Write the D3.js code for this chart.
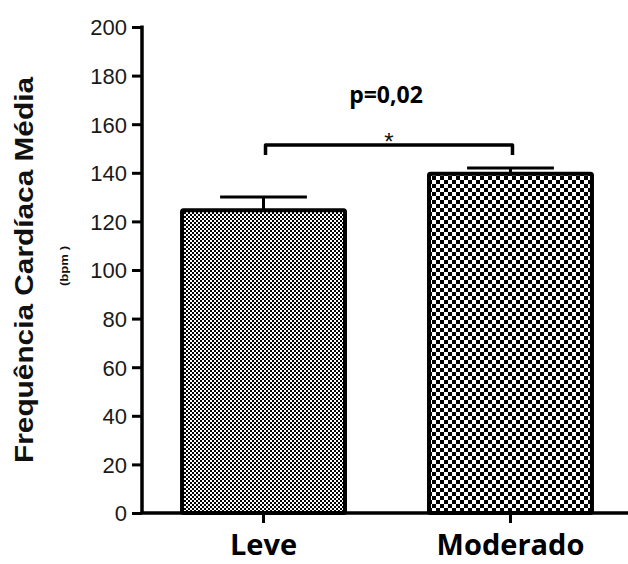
<!DOCTYPE html>
<html><head><meta charset="utf-8">
<script src="https://cdn.jsdelivr.net/npm/d3@7"></script>
<style>body{margin:0;background:#fff}svg{display:block}</style>
</head><body>
<svg id="c" width="628" height="564"></svg>
<script>
const categories = ["Leve", "Moderado"];
const means = [125, 140];
const sems = [5, 2];
const yTicks = [0, 20, 40, 60, 80, 100, 120, 140, 160, 180, 200];
const pLabel = "p=0,02";
const starLabel = "*";
const yTitle = "Frequência Cardíaca Média";
const yUnit = "(bpm )";

const svg = d3.select("#c");
const defs = svg.append("defs");
// fine checker
const p1 = defs.append("pattern").attr("id","pat0").attr("patternUnits","userSpaceOnUse")
  .attr("width",4).attr("height",4).attr("x",0).attr("y",0);
p1.append("rect").attr("width",4).attr("height",4).attr("fill","#fff");
p1.append("rect").attr("x",0).attr("y",0).attr("width",2).attr("height",2).attr("fill","#000");
p1.append("rect").attr("x",2).attr("y",2).attr("width",2).attr("height",2).attr("fill","#000");
// coarse checker
const p2 = defs.append("pattern").attr("id","pat1").attr("patternUnits","userSpaceOnUse")
  .attr("width",8).attr("height",8).attr("x",0).attr("y",0);
p2.append("rect").attr("width",8).attr("height",8).attr("fill","#fff");
p2.append("rect").attr("x",0).attr("y",0).attr("width",4).attr("height",4).attr("fill","#000");
p2.append("rect").attr("x",4).attr("y",4).attr("width",4).attr("height",4).attr("fill","#000");

const y = d3.scaleLinear().domain([0,200]).range([513,27]);
const x = d3.scaleBand().domain(categories).range([142,632]).paddingInner(0.324).paddingOuter(0.154);

// bars
const g = svg.append("g");
categories.forEach((c,i)=>{
  const bx = x(c), bw = x.bandwidth();
  const cx = bx + bw/2;
  g.append("line").attr("x1",cx).attr("x2",cx).attr("y1",y(means[i])).attr("y2",y(means[i]+sems[i]))
    .attr("stroke","#000").attr("stroke-width",3);
  g.append("line").attr("x1",cx-bw*0.26).attr("x2",cx+bw*0.26).attr("y1",y(means[i]+sems[i])).attr("y2",y(means[i]+sems[i]))
    .attr("stroke","#000").attr("stroke-width",3);
  g.append("rect").attr("x",bx+2).attr("y",y(means[i])+1).attr("width",bw-4).attr("height",y(0)-y(means[i])-1)
    .attr("fill",`url(#pat${i})`).attr("stroke","#000").attr("stroke-width",4).attr("rx",1.5);
});

// y axis
const yAxis = svg.append("g").attr("transform","translate(142,0)")
  .call(d3.axisLeft(y).tickValues(yTicks).tickSize(10).tickPadding(5));
yAxis.attr("font-size",null).attr("font-family",null);
yAxis.select(".domain").attr("stroke","#000").attr("stroke-width",3.5).attr("d","M0,25.5V514");
yAxis.selectAll(".tick line").attr("stroke","#000").attr("stroke-width",3);
yAxis.selectAll(".tick text").style("font-family","'Liberation Sans', Arial, sans-serif")
  .style("font-size","22px").attr("fill","#1a1a1a").attr("dy","0.36em");

// x axis
const xAxis = svg.append("g").attr("transform","translate(0,513)")
  .call(d3.axisBottom(x).tickSize(10).tickPadding(12));
xAxis.attr("font-size",null).attr("font-family",null);
xAxis.select(".domain").attr("stroke","#000").attr("stroke-width",3.5).attr("d","M140.5,0H628");
xAxis.selectAll(".tick line").attr("stroke","#000").attr("stroke-width",3);
xAxis.selectAll(".tick text").style("font-family","'Open Sans', sans-serif").style("font-weight","bold")
  .style("font-size","29px").attr("fill","#000").attr("dy","0.69em");

// y title
svg.append("text").attr("transform","translate(33,270) rotate(-90)").attr("text-anchor","middle")
  .style("font-family","'Liberation Sans', Arial, sans-serif").style("font-weight","bold").style("font-size","25px")
  .attr("textLength",386).attr("lengthAdjust","spacingAndGlyphs").attr("fill","#111").text(yTitle);
svg.append("text").attr("transform","translate(68,266) rotate(-90)").attr("text-anchor","middle")
  .style("font-family","'Liberation Sans', Arial, sans-serif").style("font-weight","bold").style("font-size","10px")
  .attr("textLength",40).attr("lengthAdjust","spacingAndGlyphs").attr("fill","#111").text(yUnit);

// significance bracket
const xa = x("Leve")+x.bandwidth()/2+2, xb = x("Moderado")+x.bandwidth()/2+2;
const by = 145;
svg.append("path").attr("d",`M${xa},155V${by}H${xb}V155`).attr("fill","none")
  .attr("stroke","#000").attr("stroke-width",3.5).attr("stroke-linejoin","round");
svg.append("text").attr("x",(xa+xb)/2).attr("y",by+5).attr("text-anchor","middle")
  .style("font-family","'Liberation Sans', Arial, sans-serif").style("font-size","24px").attr("fill","#111").text(starLabel);
svg.append("text").attr("x",386).attr("y",103).attr("text-anchor","middle")
  .style("font-family","'Open Sans', sans-serif").style("font-weight","bold").style("font-size","23px").attr("fill","#000").text(pLabel);
</script>
</body></html>
